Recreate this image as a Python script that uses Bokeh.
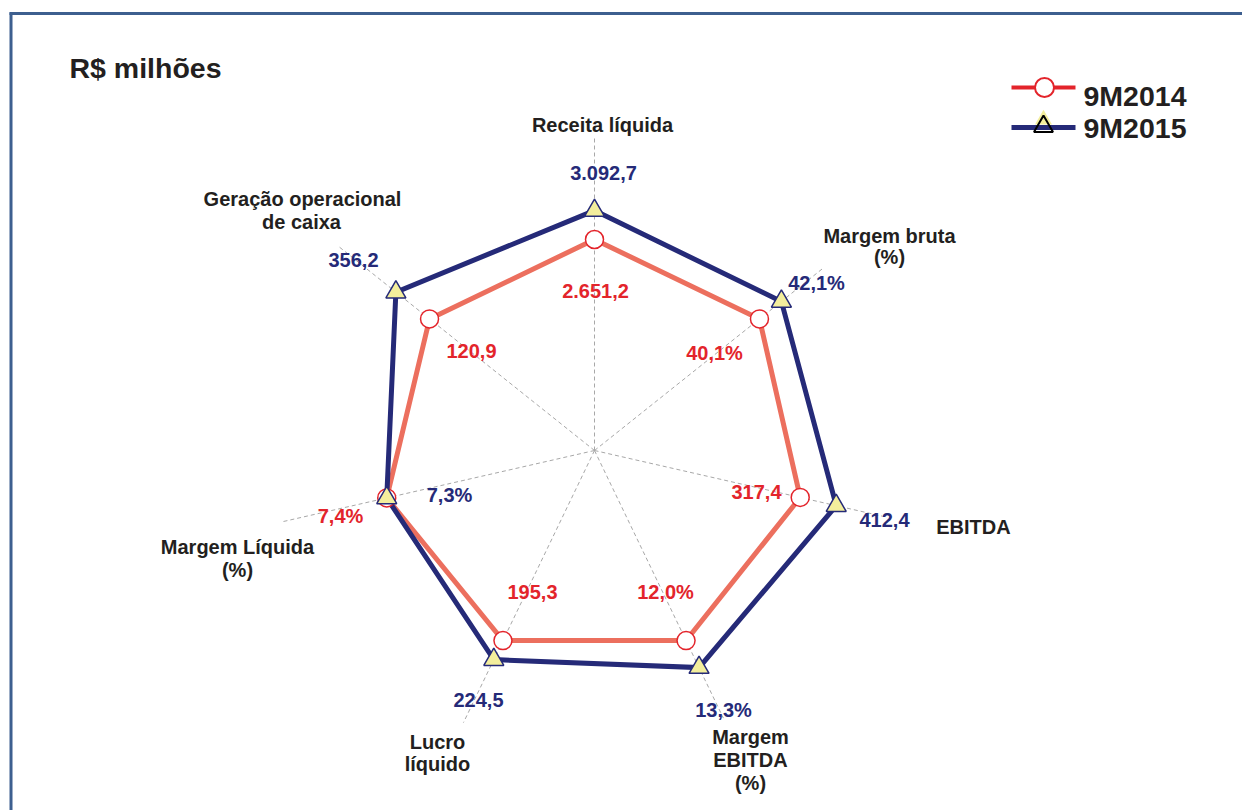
import math
from bokeh.plotting import figure
from bokeh.models import Range1d
from bokeh.core.properties import value
from bokeh.embed import file_html
from bokeh.resources import INLINE

# ---------------- data ----------------
categories = ["Receita líquida", "Margem bruta (%)", "EBITDA", "Margem EBITDA (%)",
              "Lucro líquido", "Margem Líquida (%)", "Geração operacional de caixa"]
labels_2014 = ["2.651,2", "40,1%", "317,4", "12,0%", "195,3", "7,4%", "120,9"]
labels_2015 = ["3.092,7", "42,1%", "412,4", "13,3%", "224,5", "7,3%", "356,2"]
# plotted position on each spoke (index, 9M2014 ≈ 100)
index_2014 = [100, 100, 100, 100, 100, 101, 100]
index_2015 = [113.7, 113.3, 117.5, 114.2, 110, 101, 120.4]
series_names = ["9M2014", "9M2015"]

# ---------------- layout / style ----------------
W, H = 1242, 810
CX, CY = 594, 450
PX_PER_UNIT = 2.11
spoke_len = [314, 292, 295, 297, 302, 322, 329]
FONT = value("Liberation Sans")
DARK = "#231F20"
RED = "#E3242B"
SALMON = "#EC6F5E"
NAVY = "#252A78"
YELLOW = "#F3EE9C"
FRAME = "#3D5F8F"

# category label lines with anchor positions (screen px)
cat_lines = [
    ("Receita líquida", 602, 124),
    ("Margem bruta", 889, 235), ("(%)", 889, 256),
    ("EBITDA", 973, 526),
    ("Margem", 750, 736), ("EBITDA", 750, 759), ("(%)", 750, 782),
    ("Lucro", 437, 741), ("líquido", 437, 763),
    ("Margem Líquida", 237, 546), ("(%)", 237, 569),
    ("Geração operacional", 302, 198), ("de caixa", 301, 221),
]
pos_2014 = [(595, 290), (714, 352), (756, 491), (665, 591), (532, 591), (340, 515), (471, 350)]
pos_2015 = [(603, 172), (816, 282), (884, 519), (723, 709), (478, 699), (449, 494), (353, 259)]

n = len(categories)
angles = [math.radians(90 - i * 360.0 / n) for i in range(n)]


def to_xy(vals):
    xs = [CX + v * PX_PER_UNIT * math.cos(a) for v, a in zip(vals, angles)]
    ys = [CY - v * PX_PER_UNIT * math.sin(a) for v, a in zip(vals, angles)]
    return xs, ys


p = figure(width=W, height=H, x_range=Range1d(0, W), y_range=Range1d(H, 0),
           output_backend="svg", toolbar_location=None, tools="",
           x_axis_type=None, y_axis_type=None, min_border=0)
p.grid.visible = False
p.outline_line_color = None
p.background_fill_color = "white"
p.border_fill_color = "white"

# frame (top and left visible)
p.line([9, W], [13, 13], line_color=FRAME, line_width=3)
p.line([10.5, 10.5], [12, H], line_color=FRAME, line_width=3)

# spokes
sx = [[CX, CX + L * math.cos(a)] for L, a in zip(spoke_len, angles)]
sy = [[CY, CY - L * math.sin(a)] for L, a in zip(spoke_len, angles)]
p.multi_line(sx, sy, line_color="#A8A8A8", line_width=1, line_dash="4 3")

x14, y14 = to_xy(index_2014)
x15, y15 = to_xy(index_2015)

p.patch(x14, y14, fill_color=None, line_color=SALMON, line_width=5, line_join="miter")
p.patch(x15, y15, fill_color=None, line_color=NAVY, line_width=5, line_join="miter")
p.scatter(x14, y14, marker="circle", size=18, fill_color="white", line_color=RED, line_width=1.5)
p.scatter(x15, y15, marker="triangle", size=20, fill_color=YELLOW, line_color=NAVY, line_width=1.5)

# value labels
p.text([q[0] for q in pos_2014], [q[1] for q in pos_2014], text=labels_2014,
       text_font=FONT, text_font_style="bold", text_font_size="20px", text_color=RED,
       text_align="center", text_baseline="middle")
p.text([q[0] for q in pos_2015], [q[1] for q in pos_2015], text=labels_2015,
       text_font=FONT, text_font_style="bold", text_font_size="20px", text_color=NAVY,
       text_align="center", text_baseline="middle")

# category labels
p.text([c[1] for c in cat_lines], [c[2] for c in cat_lines], text=[c[0] for c in cat_lines],
       text_font=FONT, text_font_style="bold", text_font_size="20px", text_color=DARK,
       text_align="center", text_baseline="middle")

# title
p.text([69], [67], text=["R$ milhões"], text_font=FONT, text_font_style="bold",
       text_font_size="28.5px", text_color=DARK, text_align="left", text_baseline="middle")

# legend
p.line([1011, 1075], [87, 87], line_color=RED, line_width=4)
p.scatter([1044], [87], marker="circle", size=19, fill_color="white", line_color=RED, line_width=2)
p.line([1011, 1075], [127, 127], line_color=NAVY, line_width=5)
p.scatter([1043], [119], marker="triangle", size=17, fill_color=YELLOW, line_color=None)
p.scatter([1043], [126], marker="triangle", size=19, fill_color=None, line_color="black", line_width=2)
p.text([1083, 1083], [95, 127], text=series_names, text_font=FONT, text_font_style="bold",
       text_font_size="28.5px", text_color=DARK, text_align="left", text_baseline="middle")

open("out.html", "w").write(file_html(p, INLINE))
